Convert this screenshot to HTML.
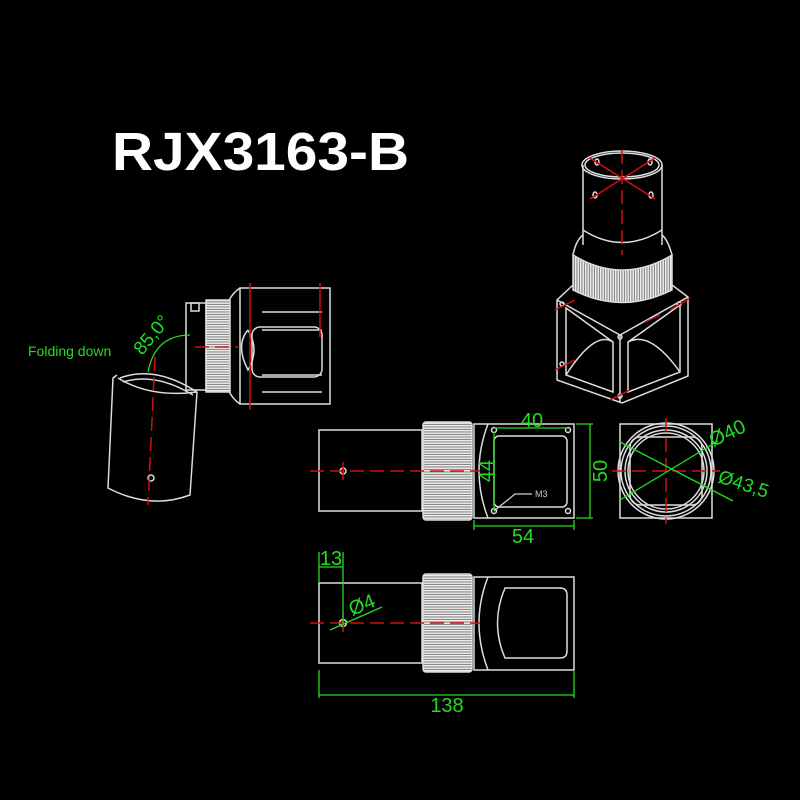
<!DOCTYPE html>
<html><head><meta charset="utf-8"><style>html,body{margin:0;background:#000}svg{display:block}</style></head><body>
<svg width="800" height="800" viewBox="0 0 800 800" xmlns="http://www.w3.org/2000/svg">
<defs>
<pattern id="kn" width="2.5" height="10" patternUnits="userSpaceOnUse"><rect width="2.5" height="10" fill="#888"/><rect width="1.4" height="10" fill="#eee"/></pattern>
<pattern id="kh" width="10" height="2.5" patternUnits="userSpaceOnUse"><rect width="10" height="2.5" fill="#888"/><rect width="10" height="1.4" fill="#eee"/></pattern>
</defs>
<rect width="800" height="800" fill="#000"/>
<text x="112" y="170" font-family="Liberation Sans, sans-serif" font-weight="bold" font-size="54" fill="#fff" textLength="297" lengthAdjust="spacingAndGlyphs">RJX3163-B</text>

<g fill="none" stroke="#ddd" stroke-width="1.5">
<rect x="319" y="430" width="103" height="81"/>
<rect x="423" y="422" width="49" height="98" rx="3" fill="url(#kh)"/>
<rect x="474" y="424" width="100" height="94"/>
<path d="M488 424 Q470 471 488 518"/>
<rect x="494" y="436" width="73" height="71" rx="5"/>
<circle cx="494" cy="430" r="2.5"/><circle cx="568" cy="430" r="2.5"/><circle cx="494" cy="511" r="2.5"/><circle cx="568" cy="511" r="2.5"/>
<circle cx="343" cy="471" r="3"/>
<rect x="620" y="424" width="92" height="94"/>
<circle cx="666" cy="471" r="48"/><circle cx="666" cy="471" r="45"/><circle cx="666" cy="471" r="41"/><circle cx="666" cy="471" r="38"/>
<rect x="630" y="437" width="72" height="68" rx="10"/>
<rect x="319" y="583" width="103" height="80"/>
<rect x="423" y="574" width="49" height="98" rx="3" fill="url(#kh)"/>
<rect x="474" y="577" width="100" height="93"/>
<path d="M488 577 Q470 623 488 670"/>
<path d="M505 588 H560 Q567 588 567 595 V651 Q567 658 560 658 H505 Q490 623 505 588 Z"/>
<circle cx="343" cy="623" r="3.5"/>
<path d="M240 288 H330 V404 H240 Z"/>
<path d="M240 288 Q222 300 225 330 M240 404 Q222 392 225 360"/>
<path d="M262 312 H322 M262 330 H322 M262 375 H322 M262 392 H322"/>
<path d="M248 330 Q235 345 248 370 Q260 350 248 330"/>
<rect x="252" y="327" width="70" height="50" rx="8"/>
<rect x="206" y="300" width="24" height="92" fill="url(#kh)"/>
<rect x="186" y="303" width="20" height="87"/>
<rect x="191" y="303" width="8" height="8"/>
<path d="M120 378 Q155 365 197 392 M123 382 Q155 372 193 395"/>
<path d="M117 375 L113 378 L108 488 Q150 510 190 495 L197 392"/>
<path d="M118 378 Q150 398 197 392"/>
<circle cx="151" cy="478" r="3"/>
<ellipse cx="622" cy="165" rx="40" ry="14"/><ellipse cx="622" cy="165" rx="37" ry="12"/>
<path d="M583 165 V245 M662 165 V245"/>
<path d="M583 230 Q622 255 662 230"/>
<path d="M573 255 Q622 285 672 255 V290 Q622 315 573 290 Z" fill="url(#kn)"/>
<path d="M573 255 Q576 240 583 235 M672 255 Q668 240 662 235"/>
<path d="M573 285 L557 300 L557 380 L622 403 L688 376 L688 297 L672 285"/>
<path d="M557 300 L620 335 L688 297 M620 335 V403"/>
<path d="M566 308 V375 L613 392 V342 Z"/>
<path d="M680 305 V372 L628 392 V342 Z"/>
<path d="M566 375 Q595 330 613 342 M680 372 Q650 330 628 342"/>
<circle cx="562" cy="304" r="2"/><circle cx="562" cy="364" r="2"/><circle cx="620" cy="337" r="2"/><circle cx="620" cy="396" r="2"/><circle cx="679" cy="304" r="2"/>
<ellipse cx="597" cy="162" rx="2" ry="3"/><ellipse cx="650" cy="162" rx="2" ry="3"/><ellipse cx="595" cy="195" rx="2" ry="3"/><ellipse cx="651" cy="195" rx="2" ry="3"/>
</g>

<g stroke="#d01010" stroke-width="1.5" fill="none" stroke-dasharray="14 6">
<path d="M310 471 H480"/><path d="M343 462 V480" stroke-dasharray="none"/>
<path d="M612 471 H720"/><path d="M666 418 V524"/>
<path d="M310 623 H480"/><path d="M343 614 V632" stroke-dasharray="none"/>
<path d="M155 357 L148 505"/><path d="M195 347 H238"/>
<path d="M250 283 V410 M320 283 V337" stroke-dasharray="none"/>
<path d="M622 150 V255"/><path d="M590 158 L655 199 M655 158 L590 199" stroke-dasharray="none"/>
<path d="M555 310 L575 300 M555 370 L575 360 M610 400 L630 390 M670 310 L690 298 M645 322 L660 315" stroke-dasharray="none"/>
</g>

<g stroke="#22dd22" stroke-width="1.3" fill="none">
<path d="M494 428 H568"/><path d="M494 432 V510"/>
<path d="M576 424 H593 M576 518 H593 M590 424 V518"/>
<path d="M474 520 V530 M574 520 V530 M474 526 H574"/>
<path d="M494 511 L515 494 H532" stroke="#ccc"/>
<path d="M620 500 L718 441 M620 442 L733 501"/>
<path d="M319 552 V583 M343 552 V623 M319 567 H343"/>
<path d="M330 630 L382 607"/>
<path d="M319 670 V698 M574 670 V698 M319 695 H574"/>
<path d="M148 372 Q155 335 190 335"/>
</g>
<g fill="#22dd22" font-family="Liberation Sans, sans-serif">
<text x="532" y="427" font-size="20" text-anchor="middle">40</text>
<text x="523" y="543" font-size="20" text-anchor="middle">54</text>
<text transform="translate(607 471) rotate(-90)" font-size="20" text-anchor="middle">50</text>
<text transform="translate(493 471) rotate(-90)" font-size="20" text-anchor="middle">44</text>
<text transform="translate(713 447) rotate(-25)" font-size="20">Ø40</text>
<text transform="translate(717 482) rotate(18)" font-size="19">Ø43,5</text>
<text x="331" y="565" font-size="20" text-anchor="middle">13</text>
<text transform="translate(352 616) rotate(-22)" font-size="20">Ø4</text>
<text x="447" y="712" font-size="20" text-anchor="middle">138</text>
<text x="28" y="356" font-size="14">Folding down</text>
<text transform="translate(142 356) rotate(-50)" font-size="19">85,0°</text>
</g>
<text x="535" y="497" font-family="Liberation Sans, sans-serif" font-size="9" fill="#ccc">M3</text>
</svg>
</body></html>
